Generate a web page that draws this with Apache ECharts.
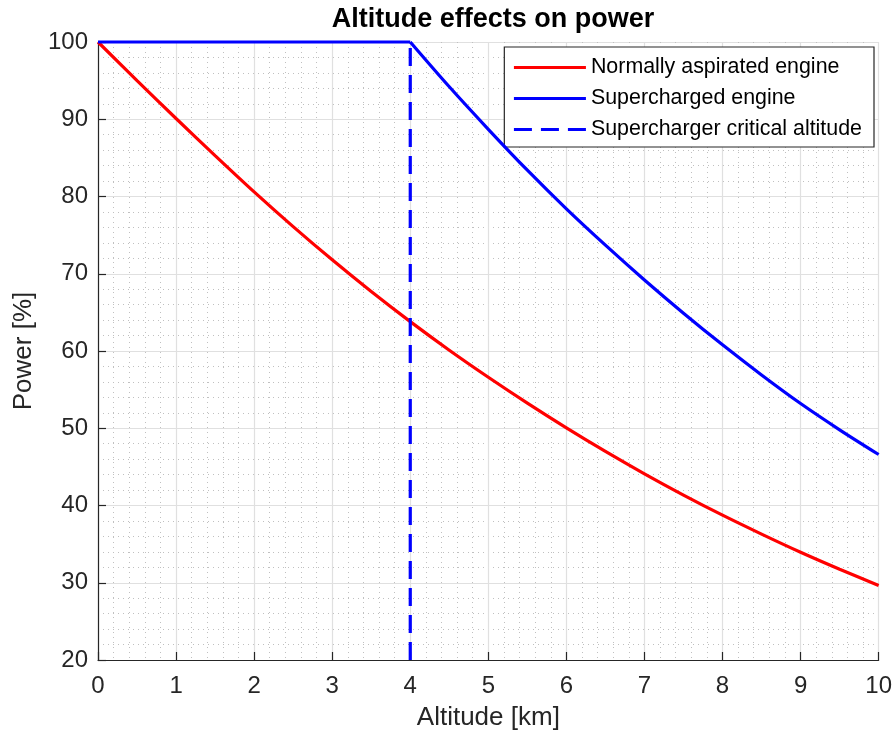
<!DOCTYPE html>
<html>
<head>
<meta charset="utf-8">
<script src="https://cdn.jsdelivr.net/npm/echarts@6/dist/echarts.min.js"></script>
<style>html,body{margin:0;padding:0;background:#fff;}#c{width:895px;height:738px;}</style>
</head>
<body>
<div id="c"></div>
<script>
// Altitude [km]
const altitude = [0, 0.5, 1, 1.5, 2, 2.5, 3, 3.5, 4, 4.5, 5, 5.5, 6, 6.5, 7, 7.5, 8, 8.5, 9, 9.5, 10];
// Normally aspirated engine power [%]
const normalPower = [100, 95.0, 90.1, 85.3, 80.6, 76.1, 71.8, 67.7, 63.8, 60.1, 56.6, 53.25, 50.05, 47.0, 44.1, 41.35, 38.75, 36.3, 33.95, 31.75, 29.65];
// Supercharged engine: constant power up to the critical altitude
const superFlatAlt = [0, 4];
const superFlatPower = [100, 100];
// Supercharged engine: above the critical altitude
const superAlt = [4, 4.5, 5, 5.5, 6, 6.5, 7, 7.5, 8, 8.5, 9, 9.5, 10];
const superPower = [100, 94.2, 88.7, 83.4, 78.4, 73.7, 69.2, 64.9, 60.8, 56.9, 53.2, 49.8, 46.6];
// Critical altitude line
const criticalX = [4, 4];
const criticalY = [20, 100];
const xTicks = [0, 1, 2, 3, 4, 5, 6, 7, 8, 9, 10];
const yTicks = [20, 30, 40, 50, 60, 70, 80, 90, 100];

const names = ['Normally aspirated engine', 'Supercharged engine', 'Supercharger critical altitude'];
const FONT = '"Liberation Sans", Arial, Helvetica, sans-serif';
const TXT = '#262626';

const chart = echarts.init(document.getElementById('c'));
const zip = (xs, ys) => xs.map((x, i) => [x, ys[i]]);

const axisCommon = {
  axisLine: { show: true, lineStyle: { color: TXT, width: 1.2 } },
  axisTick: { show: true, inside: true, length: 8, lineStyle: { color: TXT, width: 1.2 } },
  axisLabel: { color: TXT, fontSize: 24, fontFamily: FONT },
  splitLine: { show: true, lineStyle: { color: '#e0e0e0', width: 1.2 } },
  minorTick: { show: false, splitNumber: 5 },
  minorSplitLine: { show: true, lineStyle: { color: '#c0c0c0', width: 1, type: [1, 4] } },
  nameTextStyle: { color: TXT, fontSize: 26, fontFamily: FONT },
  nameLocation: 'middle'
};

chart.setOption({
  animation: false,
  backgroundColor: '#fff',
  title: {
    text: 'Altitude effects on power',
    left: 488, top: 1, textAlign: 'center',
    textStyle: { color: '#000', fontSize: 27, fontWeight: 'bold', fontFamily: FONT }
  },
  grid: { left: 98, right: 15, top: 42, bottom: 78, containLabel: false },
  legend: {
    orient: 'vertical', right: 21, top: 47,
    itemWidth: 72, itemHeight: 20, itemGap: 10,
    padding: [10, 12, 7, 8],
    backgroundColor: '#fff', borderColor: TXT, borderWidth: 1.2,
    itemStyle: { opacity: 0 },
    lineStyle: { width: 3.2 },
    textStyle: { color: '#000', fontSize: 21.4, fontFamily: FONT },
    data: names
  },
  xAxis: Object.assign({}, axisCommon, {
    type: 'value', min: xTicks[0], max: xTicks[xTicks.length - 1], interval: 1,
    name: 'Altitude [km]', nameGap: 45,
    axisLabel: Object.assign({}, axisCommon.axisLabel, { margin: 14 })
  }),
  yAxis: Object.assign({}, axisCommon, {
    type: 'value', min: yTicks[0], max: yTicks[yTicks.length - 1], interval: 10,
    name: 'Power [%]', nameGap: 60,
    axisLabel: Object.assign({}, axisCommon.axisLabel, { margin: 10 })
  }),
  series: [
    { name: names[0], type: 'line', data: zip(altitude, normalPower), smooth: 0.3, symbol: 'none', clip: false,
      lineStyle: { color: '#ff0000', width: 3.2 }, itemStyle: { color: '#ff0000' }, z: 3 },
    { name: names[1], type: 'line', data: zip(superFlatAlt, superFlatPower), symbol: 'none', clip: false,
      lineStyle: { color: '#0000ff', width: 3.2 }, itemStyle: { color: '#0000ff' }, z: 4 },
    { name: names[1], type: 'line', data: zip(superAlt, superPower), smooth: 0.3, symbol: 'none', clip: false,
      lineStyle: { color: '#0000ff', width: 3.2 }, itemStyle: { color: '#0000ff' }, z: 4 },
    { name: names[2], type: 'line', data: zip(criticalX, criticalY), symbol: 'none', clip: false,
      lineStyle: { color: '#0000ff', width: 3.2, type: [18, 9] }, itemStyle: { color: '#0000ff' }, z: 4 }
  ]
});
</script>
</body>
</html>
